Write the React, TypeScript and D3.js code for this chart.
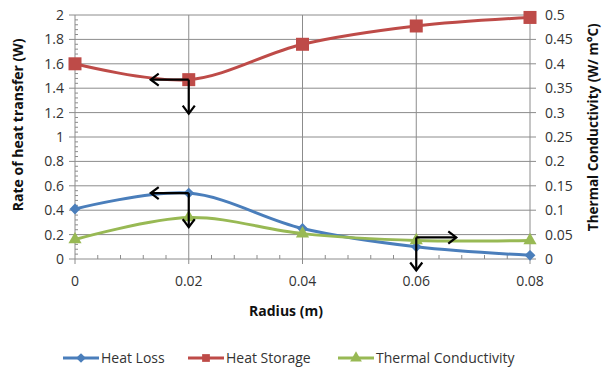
import * as d3 from "d3";

const radius = [0, 0.02, 0.04, 0.06, 0.08];
const heatLoss = [0.41, 0.54, 0.25, 0.1, 0.03];
const heatStorage = [1.6, 1.47, 1.76, 1.91, 1.98];
const conductivity = [0.04, 0.085, 0.052, 0.038, 0.038];
const xTicks = [0, 0.02, 0.04, 0.06, 0.08];
const leftTicks = [0, 0.2, 0.4, 0.6, 0.8, 1, 1.2, 1.4, 1.6, 1.8, 2];
const rightTicks = [0, 0.05, 0.1, 0.15, 0.2, 0.25, 0.3, 0.35, 0.4, 0.45, 0.5];

const BLUE = "#4a7ebb";
const RED = "#be4b48";
const GREEN = "#98b954";
const GRID = "#8c8c8c";
const FONT = "'Open Sans', 'Liberation Sans', sans-serif";

function Arrow({ x1, y1, x2, y2 }: { x1: number; y1: number; x2: number; y2: number }) {
  const a = Math.atan2(y2 - y1, x2 - x1);
  const h = 10;
  const p1 = [x2 - h * Math.cos(a - 0.65), y2 - h * Math.sin(a - 0.65)];
  const p2 = [x2 - h * Math.cos(a + 0.65), y2 - h * Math.sin(a + 0.65)];
  return (
    <g stroke="#000" strokeWidth={2.2} fill="none">
      <line x1={x1} y1={y1} x2={x2} y2={y2} />
      <polyline points={`${p1[0]},${p1[1]} ${x2},${y2} ${p2[0]},${p2[1]}`} />
    </g>
  );
}

export default function App() {
  const x = d3.scaleLinear().domain([0, 0.08]).range([75, 530]);
  const yL = d3.scaleLinear().domain([0, 2]).range([259, 15]);
  const yR = d3.scaleLinear().domain([0, 0.5]).range([259, 15]);
  const line = (ys: number[], y: d3.ScaleLinear<number, number>) =>
    d3
      .line<number>()
      .x((_, i) => x(radius[i]))
      .y((d) => y(d))
      .curve(d3.curveCatmullRom.alpha(0.5))(ys) ?? "";

  const minorX = d3.range(0, 0.0801, 0.004).filter((v) => Math.abs(v / 0.02 - Math.round(v / 0.02)) > 1e-6);
  const minorY = d3.range(0, 2.001, 0.04).filter((v) => Math.abs(v / 0.2 - Math.round(v / 0.2)) > 1e-6);

  const hsA = [x(radius[1]), yL(heatStorage[1])];
  const hlA = [x(radius[1]), yL(heatLoss[1])];
  const tcA = [x(radius[3]), yR(conductivity[3]) - 3];

  return (
    <svg width={612} height={371} style={{ position: "absolute", left: 0, top: 0, background: "#fff" }} fontFamily={FONT}>
      {/* gridlines */}
      {leftTicks.slice(1).map((t) => (
        <line key={"h" + t} x1={x(0)} x2={x(0.08)} y1={yL(t)} y2={yL(t)} stroke={GRID} strokeWidth={1} />
      ))}
      {xTicks.slice(1).map((t) => (
        <line key={"v" + t} x1={x(t)} x2={x(t)} y1={yL(0)} y2={yL(2)} stroke={GRID} strokeWidth={1} />
      ))}
      {/* axes */}
      <line x1={x(0)} x2={x(0)} y1={yL(0)} y2={yL(2)} stroke={GRID} />
      <line x1={x(0)} x2={x(0.08)} y1={yL(0)} y2={yL(0)} stroke={GRID} />
      {leftTicks.map((t) => (
        <line key={"lt" + t} x1={x(0) - 6} x2={x(0)} y1={yL(t)} y2={yL(t)} stroke={GRID} />
      ))}
      {minorY.map((t) => (
        <line key={"lm" + t} x1={x(0)} x2={x(0) + 3} y1={yL(t)} y2={yL(t)} stroke={GRID} />
      ))}
      {rightTicks.map((t) => (
        <line key={"rt" + t} x1={x(0.08)} x2={x(0.08) + 6} y1={yR(t)} y2={yR(t)} stroke={GRID} />
      ))}
      {xTicks.map((t) => (
        <line key={"xt" + t} x1={x(t)} x2={x(t)} y1={yL(0)} y2={yL(0) + 5} stroke={GRID} />
      ))}
      {minorX.map((t) => (
        <line key={"xm" + t} x1={x(t)} x2={x(t)} y1={yL(0) - 4} y2={yL(0)} stroke={GRID} />
      ))}
      {/* tick labels */}
      {leftTicks.map((t) => (
        <text key={"ll" + t} x={x(0) - 11} y={yL(t)} dy="0.35em" textAnchor="end" fontSize={14} fill="#333">
          {d3.format("~g")(t)}
        </text>
      ))}
      {rightTicks.map((t) => (
        <text key={"rl" + t} x={x(0.08) + 15} y={yR(t)} dy="0.35em" textAnchor="start" fontSize={14} fill="#333">
          {d3.format("~g")(t)}
        </text>
      ))}
      {xTicks.map((t) => (
        <text key={"xl" + t} x={x(t)} y={yL(0) + 27} textAnchor="middle" fontSize={14} fill="#333">
          {d3.format("~g")(t)}
        </text>
      ))}
      {/* axis titles */}
      <text transform={`translate(23,${yL(1.1)}) rotate(-90)`} textAnchor="middle" fontSize={14} fontWeight="bold" fill="#111">
        Rate of heat transfer (W)
      </text>
      <text transform={`translate(598,${yL(1.08)}) rotate(-90)`} textAnchor="middle" fontSize={13.5} fontWeight="bold" fill="#111">
        Thermal Conductivity (W/ m°C)
      </text>
      <text x={286} y={316} textAnchor="middle" fontSize={14} fontWeight="bold" fill="#111">
        Radius (m)
      </text>
      {/* series */}
      <path d={line(heatStorage, yL)} fill="none" stroke={RED} strokeWidth={3} />
      <path d={line(heatLoss, yL)} fill="none" stroke={BLUE} strokeWidth={3} />
      <path d={line(conductivity, yR)} fill="none" stroke={GREEN} strokeWidth={3} />
      {heatStorage.map((v, i) => (
        <rect key={"hs" + i} x={x(radius[i]) - 6.5} y={yL(v) - 6.5} width={13} height={13} fill={RED} />
      ))}
      {heatLoss.map((v, i) => (
        <path key={"hl" + i} d={d3.symbol(d3.symbolDiamond2, 75)() ?? ""} transform={`translate(${x(radius[i])},${yL(v)})`} fill={BLUE} />
      ))}
      {conductivity.map((v, i) => (
        <path key={"tc" + i} d={d3.symbol(d3.symbolTriangle, 75)() ?? ""} transform={`translate(${x(radius[i])},${yR(v)})`} fill={GREEN} />
      ))}
      {/* annotation arrows */}
      <Arrow x1={hsA[0]} y1={hsA[1]} x2={hsA[0] - 38} y2={hsA[1]} />
      <Arrow x1={hsA[0]} y1={hsA[1]} x2={hsA[0]} y2={hsA[1] + 34} />
      <Arrow x1={hlA[0]} y1={hlA[1]} x2={hlA[0] - 38} y2={hlA[1]} />
      <Arrow x1={hlA[0]} y1={hlA[1]} x2={hlA[0]} y2={hlA[1] + 34} />
      <Arrow x1={tcA[0]} y1={tcA[1]} x2={tcA[0] + 40} y2={tcA[1]} />
      <Arrow x1={tcA[0]} y1={tcA[1]} x2={tcA[0]} y2={tcA[1] + 33} />
      {/* legend */}
      {[
        { name: "Heat Loss", color: BLUE, x0: 63, sym: d3.symbolDiamond2 },
        { name: "Heat Storage", color: RED, x0: 188, sym: d3.symbolSquare },
        { name: "Thermal Conductivity", color: GREEN, x0: 338, sym: d3.symbolTriangle },
      ].map((l) => (
        <g key={l.name} transform={`translate(${l.x0},358)`}>
          <line x1={0} x2={36} y1={0} y2={0} stroke={l.color} strokeWidth={3} />
          <path d={d3.symbol(l.sym, 60)() ?? ""} transform="translate(18,0)" fill={l.color} />
          <text x={38} y={0} dy="0.35em" fontSize={14} fill="#333">
            {l.name}
          </text>
        </g>
      ))}
    </svg>
  );
}
